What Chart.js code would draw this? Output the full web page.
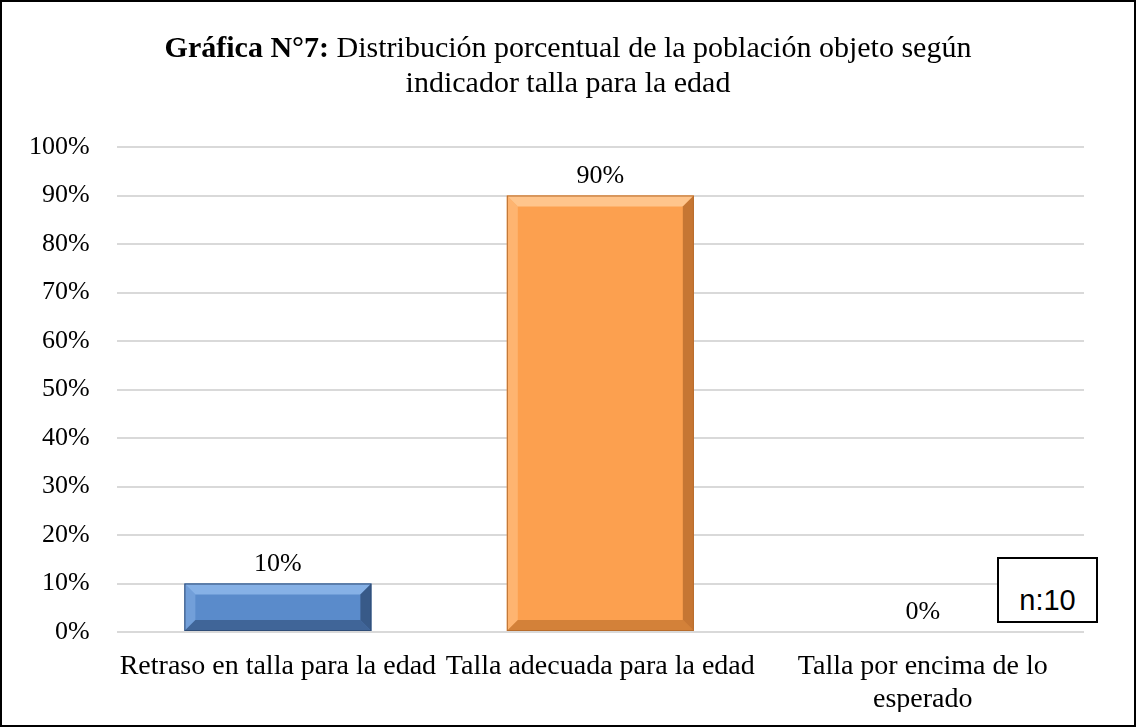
<!DOCTYPE html>
<html>
<head>
<meta charset="utf-8">
<script src="https://cdn.jsdelivr.net/npm/chart.js@4/dist/chart.umd.min.js"></script>
<style>
  html, body { margin: 0; padding: 0; background: #fff; }
  #marco {
    position: relative; width: 1132px; height: 723px;
    border: 2px solid #000; overflow: hidden;
  }
  #titulo {
    position: absolute; left: 0; right: 0; top: 27px;
    text-align: center; font-family: "Liberation Serif", serif;
    font-size: 30px; line-height: 35px; color: #000;
  }
  #caja {
    position: absolute; left: 995px; top: 555px; width: 97px; height: 62px;
    border: 2px solid #000; font-family: "Liberation Sans", Arial, sans-serif;
    font-size: 29px; line-height: 82px; text-align: center; background: #fff;
    overflow: hidden;
  }
  canvas { position: absolute; left: 0; top: 0; }
</style>
</head>
<body>
<div id="marco">
  <canvas id="myChart" width="1132" height="723"></canvas>
  <div id="titulo"><b>Gráfica N°7:</b> Distribución porcentual de la población objeto según<br>indicador talla para la edad</div>
  <div id="caja">n:10</div>
</div>
<script>
// Datos de la gráfica
const categorias = [
    'Retraso en talla para la edad',
    'Talla adecuada para la edad',
    ['Talla por encima de lo', 'esperado']
];
const porcentajes = [10, 90, 0];
const coloresCara = ['#5a8bcb', '#fca04f', '#fca04f'];
const coloresClaro = ['#86b1e6', '#ffc58c', '#ffc58c'];
const coloresOscuro = ['#2f4d77', '#b86c2c', '#b86c2c'];

// Efecto de bisel en las barras (tipo Excel)
const biselPlugin = {
    id: 'bisel',
    afterDatasetsDraw(chart) {
        const ctx = chart.ctx;
        chart.getDatasetMeta(0).data.forEach((bar, i) => {
            const p = bar.getProps(['x', 'y', 'base', 'width'], true);
            const l = p.x - p.width / 2, r = p.x + p.width / 2;
            const t = p.y, b = p.base;
            if (b - t < 2) return;
            const s = Math.min(11, (b - t) / 2.5);
            ctx.save();
            // arriba
            ctx.fillStyle = coloresClaro[i];
            ctx.beginPath();
            ctx.moveTo(l, t); ctx.lineTo(r, t); ctx.lineTo(r - s, t + s); ctx.lineTo(l + s, t + s);
            ctx.fill();
            // izquierda
            ctx.globalAlpha = 0.55;
            ctx.beginPath();
            ctx.moveTo(l, t); ctx.lineTo(l + s, t + s); ctx.lineTo(l + s, b - s); ctx.lineTo(l, b);
            ctx.fill();
            // derecha
            ctx.globalAlpha = 0.8;
            ctx.fillStyle = coloresOscuro[i];
            ctx.beginPath();
            ctx.moveTo(r, t); ctx.lineTo(r - s, t + s); ctx.lineTo(r - s, b - s); ctx.lineTo(r, b);
            ctx.fill();
            // abajo
            ctx.globalAlpha = 0.6;
            ctx.beginPath();
            ctx.moveTo(l, b); ctx.lineTo(l + s, b - s); ctx.lineTo(r - s, b - s); ctx.lineTo(r, b);
            ctx.fill();
            ctx.globalAlpha = 1;
            ctx.strokeStyle = coloresOscuro[i];
            ctx.lineWidth = 1;
            ctx.strokeRect(l + 0.5, t + 0.5, p.width - 1, b - t - 1);
            ctx.restore();
        });
    }
};

// Etiquetas de valor encima de las barras
const etiquetasPlugin = {
    id: 'etiquetas',
    afterDatasetsDraw(chart) {
        const ctx = chart.ctx;
        ctx.save();
        ctx.font = '26px "Liberation Serif"';
        ctx.fillStyle = '#000';
        ctx.textAlign = 'center';
        ctx.textBaseline = 'alphabetic';
        chart.getDatasetMeta(0).data.forEach((bar, i) => {
            ctx.fillText(porcentajes[i] + '%', bar.x, bar.y - 13);
        });
        ctx.restore();
    }
};

const ctx = document.getElementById('myChart').getContext('2d');
const myChart = new Chart(ctx, {
    type: 'bar',
    data: {
        labels: categorias,
        datasets: [{
            data: porcentajes,
            backgroundColor: coloresCara,
            borderWidth: 0,
            categoryPercentage: 1,
            barPercentage: 0.58
        }]
    },
    options: {
        responsive: false,
        animation: false,
        plugins: {
            legend: { display: false },
            title: { display: false },
            tooltip: { enabled: false }
        },
        layout: {
            padding: { top: 145, right: 50, bottom: 13, left: 0 }
        },
        scales: {
            x: {
                grid: { display: false },
                border: { display: false },
                afterFit: function(axis) {
                    axis.height = 80;
                },
                ticks: {
                    color: '#000',
                    font: { family: 'Liberation Serif', size: 28, lineHeight: 1.15 },
                    padding: 11,
                    autoSkip: false,
                    maxRotation: 0,
                    minRotation: 0
                }
            },
            y: {
                min: 0,
                max: 100,
                grid: { color: '#d9d9d9', lineWidth: 2, drawTicks: false },
                border: { display: false },
                ticks: {
                    stepSize: 10,
                    color: '#000',
                    padding: 27,
                    font: { family: 'Liberation Serif', size: 26 },
                    callback: function(value) {
                        return value + '%';
                    }
                }
            }
        }
    },
    plugins: [biselPlugin, etiquetasPlugin]
});
</script>
</body>
</html>
